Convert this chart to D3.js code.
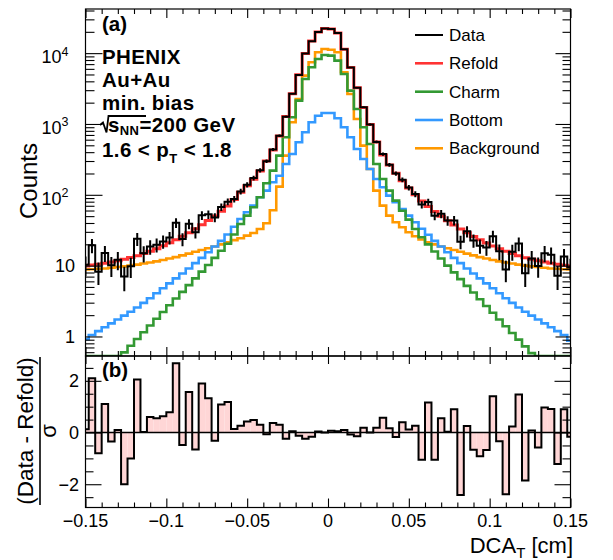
<!DOCTYPE html>
<html><head><meta charset="utf-8">
<script src="https://cdn.jsdelivr.net/npm/d3@7"></script>
<style>
body{margin:0;background:#fff;}
svg text{font-family:"Liberation Sans",Arial,Helvetica,sans-serif;fill:#000;}
</style></head><body>
<svg id="chart" width="613" height="560"></svg>
<script>
// ---------------- data ----------------
const binCenters = [-0.150,-0.146,-0.142,-0.138,-0.134,-0.130,-0.126,-0.122,-0.118,-0.114,
  -0.110,-0.106,-0.102,-0.098,-0.094,-0.090,-0.086,-0.082,-0.078,-0.074,
  -0.070,-0.066,-0.062,-0.058,-0.054,-0.050,-0.046,-0.042,-0.038,-0.034,
  -0.030,-0.026,-0.022,-0.018,-0.014,-0.010,-0.006,-0.002,0.002,0.006,
  0.010,0.014,0.018,0.022,0.026,0.030,0.034,0.038,0.042,0.046,
  0.050,0.054,0.058,0.062,0.066,0.070,0.074,0.078,0.082,0.086,
  0.090,0.094,0.098,0.102,0.106,0.110,0.114,0.118,0.122,0.126,
  0.130,0.134,0.138,0.142,0.146,0.150];
const binWidth = 0.004;

const dataCounts = [10.3,19.4,8.2,15.1,10.1,12.1,7.0,9.8,23.9,14.9,
  18.6,19.8,22.0,24.9,40.2,23.7,39.0,29.5,51.3,53.0,
  47.9,67.4,79.9,87.2,111.5,139.0,172.2,222.0,298.6,437.7,
  681.6,1269,2680,4930,9863,14780,19876,22310,21860,19327,
  11361,6256,3243,1720,986,558.6,376.5,265.5,199.7,162.7,
  126.4,102.4,72.7,78.9,50.7,53.9,43.3,43.5,21.7,30.5,
  22.7,19.1,18.0,26.1,15.9,8.8,15.7,20.5,7.8,12.6,
  9.9,15.0,14.2,7.2,13.5,9.4];

const refold = [9.89,10.17,10.47,10.79,11.25,11.77,12.34,12.98,13.84,14.85,
  15.99,17.33,19.02,20.97,23.22,25.99,29.22,33.12,37.70,43.30,
  50.12,58.56,69.34,85.93,108.7,133.9,165.9,217.5,299.8,430.0,
  673.8,1278,2677,4938,9887,14800,19870,22310,21850,19320,
  11350,6262,3251,1712,985.8,554.4,365.4,262.7,202.1,157.6,
  125.1,99.83,81.67,68.56,58.19,49.83,43.07,37.52,32.97,29.10,
  25.89,23.14,20.91,18.97,17.29,15.95,14.83,13.82,12.96,12.32,
  11.76,11.24,10.78,10.46,10.16,9.85];

const charm = [0.170,0.209,0.257,0.316,0.389,0.479,0.596,0.741,0.923,1.148,
  1.429,1.778,2.213,2.754,3.428,4.266,5.309,6.607,8.222,10.23,
  12.88,16.22,20.42,27.54,38.73,50.82,66.68,92.26,145.6,219.3,
  357.3,648.6,1242,2133,4315,6310,8279,9419,9226,7834,
  5082,2958,1629,897.4,522.4,272.3,167.5,114.6,82.79,59.70,
  44.67,32.96,25.12,19.95,15.85,12.59,10.0,8.035,6.457,5.188,
  4.169,3.350,2.692,2.163,1.738,1.396,1.122,0.902,0.724,0.582,
  0.468,0.380,0.309,0.251,0.204,0.166];

const bottom = [0.912,1.047,1.189,1.349,1.531,1.738,1.972,2.239,2.570,2.985,
  3.467,4.074,4.786,5.623,6.607,7.762,9.120,10.84,12.88,15.49,
  18.62,22.39,27.54,35.48,45.60,56.62,70.31,92.26,114.6,150.3,
  186.2,272.3,377.6,550.8,763.8,1057,1309,1429,1429,1202,
  897.4,648.6,443.6,320.6,231.7,167.5,127.6,97.27,78.34,63.10,
  50.82,40.93,33.11,27.23,22.39,18.62,15.49,12.88,10.84,9.120,
  7.762,6.607,5.623,4.786,4.074,3.467,2.985,2.570,2.239,1.972,
  1.738,1.531,1.349,1.189,1.047,0.871];

const background = [8.81,8.91,9.02,9.12,9.33,9.55,9.77,10.0,10.35,10.72,
  11.09,11.48,12.02,12.59,13.18,13.96,14.79,15.67,16.60,17.58,
  18.62,19.95,21.38,22.91,24.32,26.49,28.91,32.96,39.63,60.39,
  130.3,357.3,1057,2254,4808,7430,10280,11460,11190,10280,
  5370,2655,1178,494.3,231.7,114.6,70.31,50.82,40.93,34.75,
  29.58,25.94,23.44,21.38,19.95,18.62,17.58,16.60,15.67,14.79,
  13.96,13.18,12.59,12.02,11.48,11.09,10.72,10.35,10.0,9.77,
  9.55,9.33,9.12,9.02,8.91,8.81];

const residual = [0.13,2.1,-0.8,1.1,-0.35,0.1,-2.0,-1.0,2.05,0.02,
  0.6,0.55,0.63,0.78,2.68,-0.48,1.57,-0.66,1.9,1.33,
  -0.32,1.08,1.18,0.14,0.26,0.43,0.48,0.3,-0.07,0.37,
  0.3,-0.24,0.05,-0.12,-0.24,-0.16,0.04,0.0,0.07,0.05,
  0.1,-0.08,-0.14,0.18,0.0,0.18,0.57,0.17,-0.17,0.4,
  0.12,0.26,-1.05,1.16,-1.05,0.55,0.03,0.9,-2.42,0.25,
  -0.67,-0.92,-0.68,1.4,-0.34,-2.39,0.23,1.47,-1.86,0.08,
  -0.58,0.97,0.91,-1.22,0.9,-0.16];

const xMajorTicks = [-0.15,-0.1,-0.05,0,0.05,0.1,0.15];
const xTickLabels = ["\u22120.15","\u22120.1","\u22120.05","0","0.05","0.1","0.15"];
const xMinorTicks = [-0.14,-0.13,-0.12,-0.11,-0.09,-0.08,-0.07,-0.06,-0.04,-0.03,-0.02,-0.01,
  0.01,0.02,0.03,0.04,0.06,0.07,0.08,0.09,0.11,0.12,0.13,0.14];
const yTopMajor = [1,10,100,1000,10000];
const yTopLabels = [{base:"1",exp:""},{base:"10",exp:""},{base:"10",exp:"2"},{base:"10",exp:"3"},{base:"10",exp:"4"}];
const yTopMinor = [0.6,0.7,0.8,0.9,2,3,4,5,6,7,8,9,20,30,40,50,60,70,80,90,
  200,300,400,500,600,700,800,900,2000,3000,4000,5000,6000,7000,8000,9000,20000,30000,40000];
const yBotMajor = [-2,0,2];
const yBotLabels = ["\u22122","0","2"];
const yBotMinor = [-2.5,-1.5,-1,-0.5,0.5,1,1.5,2.5];

const legendLabels = ["Data","Refold","Charm","Bottom","Background"];
const seriesColors = {Data:"#000000",Refold:"#ff3333",Charm:"#339933",Bottom:"#3399ff",Background:"#ff9900"};

const infoLines = ["PHENIX","Au+Au","min. bias"];

// ---------------- layout ----------------
const xL = 85.5, xR = 570.5, yT = 9, yM = 356, yB = 507.5;
const svg = d3.select("#chart");
const x = d3.scaleLinear().domain([-0.15,0.15]).range([xL,xR]);
const yTop = d3.scaleLog().domain([0.53,42000]).range([yM,yT]);
const yBot = d3.scaleLinear().domain([-2.9,2.96]).range([yB,yM]);

const defs = svg.append("defs");
defs.append("clipPath").attr("id","clipTop").append("rect")
  .attr("x",xL).attr("y",yT).attr("width",xR-xL).attr("height",yM-yT);
defs.append("clipPath").attr("id","clipBot").append("rect")
  .attr("x",xL).attr("y",yM).attr("width",xR-xL).attr("height",yB-yM);

function stepPath(vals, ys, minV){
  let p = "";
  vals.forEach((v,i)=>{
    const c = binCenters[i];
    const x0 = x(c-binWidth/2), x1 = x(c+binWidth/2);
    const yy = ys(Math.max(v,minV));
    p += (i===0 ? `M${x0},${yy}` : `V${yy}`) + `H${x1}`;
  });
  return p;
}

// ---------------- top panel ----------------
const gTop = svg.append("g").attr("clip-path","url(#clipTop)");
const minTop = yTop.domain()[0];
[["Background",background],["Bottom",bottom],["Charm",charm]].forEach(([n,arr])=>{
  gTop.append("path").attr("d",stepPath(arr,yTop,minTop))
    .attr("fill","none").attr("stroke",seriesColors[n]).attr("stroke-width",2.6);
});
gTop.append("path").attr("d",stepPath(refold,yTop,minTop))
  .attr("fill","none").attr("stroke",seriesColors.Refold).attr("stroke-width",3);
gTop.append("path").attr("d",stepPath(dataCounts,yTop,minTop))
  .attr("fill","none").attr("stroke","#000").attr("stroke-width",2);
gTop.selectAll("line.err").data(dataCounts).enter().append("line")
  .attr("x1",(d,i)=>x(binCenters[i])).attr("x2",(d,i)=>x(binCenters[i]))
  .attr("y1",d=>yTop(Math.max(d-Math.sqrt(d),minTop))).attr("y2",d=>yTop(d+Math.sqrt(d)))
  .attr("stroke","#000").attr("stroke-width",2);

// ---------------- bottom panel ----------------
const gBot = svg.append("g").attr("clip-path","url(#clipBot)");
gBot.selectAll("rect.res").data(residual).enter().append("rect")
  .attr("x",(d,i)=>x(binCenters[i]-binWidth/2))
  .attr("width",(d,i)=>x(binCenters[i]+binWidth/2)-x(binCenters[i]-binWidth/2))
  .attr("y",d=>Math.min(yBot(d),yBot(0)))
  .attr("height",d=>Math.abs(yBot(d)-yBot(0)))
  .attr("fill","#ffd6d6");
gBot.append("path").attr("d",stepPath(residual,yBot,-100))
  .attr("fill","none").attr("stroke","#000").attr("stroke-width",2);
svg.append("line").attr("x1",xL).attr("x2",xR).attr("y1",yBot(0)).attr("y2",yBot(0))
  .attr("stroke","#000").attr("stroke-width",1.6);

// ---------------- axes / ticks ----------------
function ax(fn, tr){
  const g = svg.append("g").attr("transform",tr).call(fn);
  g.select(".domain").remove();
  g.selectAll("line").attr("stroke","#000").attr("stroke-width",1.1);
  g.selectAll("text").remove();
  return g;
}
// top panel
ax(d3.axisTop(x).tickValues(xMajorTicks).tickSize(-9), `translate(0,${yT})`);
ax(d3.axisTop(x).tickValues(xMinorTicks).tickSize(-5), `translate(0,${yT})`);
ax(d3.axisBottom(x).tickValues(xMajorTicks).tickSize(-9), `translate(0,${yM})`);
ax(d3.axisBottom(x).tickValues(xMinorTicks).tickSize(-5), `translate(0,${yM})`);
ax(d3.axisLeft(yTop).tickValues(yTopMajor).tickSize(-17), `translate(${xL},0)`);
ax(d3.axisLeft(yTop).tickValues(yTopMinor).tickSize(-9), `translate(${xL},0)`);
ax(d3.axisRight(yTop).tickValues(yTopMajor).tickSize(-15), `translate(${xR},0)`);
ax(d3.axisRight(yTop).tickValues(yTopMinor).tickSize(-8), `translate(${xR},0)`);
// bottom panel
ax(d3.axisTop(x).tickValues(xMajorTicks).tickSize(-8), `translate(0,${yM})`);
ax(d3.axisTop(x).tickValues(xMinorTicks).tickSize(-4), `translate(0,${yM})`);
ax(d3.axisBottom(x).tickValues(xMajorTicks).tickSize(-9), `translate(0,${yB})`);
ax(d3.axisBottom(x).tickValues(xMinorTicks).tickSize(-5), `translate(0,${yB})`);
ax(d3.axisLeft(yBot).tickValues(yBotMajor).tickSize(-16), `translate(${xL},0)`);
ax(d3.axisLeft(yBot).tickValues(yBotMinor).tickSize(-8), `translate(${xL},0)`);
ax(d3.axisRight(yBot).tickValues(yBotMajor).tickSize(-16), `translate(${xR},0)`);
ax(d3.axisRight(yBot).tickValues(yBotMinor).tickSize(-8), `translate(${xR},0)`);

// frames
svg.append("rect").attr("x",xL).attr("y",yT).attr("width",xR-xL).attr("height",yM-yT)
  .attr("fill","none").attr("stroke","#000").attr("stroke-width",1.2);
svg.append("rect").attr("x",xL).attr("y",yM).attr("width",xR-xL).attr("height",yB-yM)
  .attr("fill","none").attr("stroke","#000").attr("stroke-width",1.2);

// tick labels
yTopMajor.forEach((v,i)=>{
  const lab = yTopLabels[i];
  if(lab.exp){
    const t = svg.append("text").attr("x",68.5).attr("y",yTop(v)+10)
      .attr("text-anchor","end").attr("font-size",18);
    t.append("tspan").text(lab.base);
    t.append("tspan").attr("dy",-7.5).attr("font-size",12.5).text(lab.exp);
  } else {
    svg.append("text").attr("x",75).attr("y",yTop(v)+6.5)
      .attr("text-anchor","end").attr("font-size",18).text(lab.base);
  }
});
yBotMajor.forEach((v,i)=>{
  svg.append("text").attr("x",79).attr("y",yBot(v)+6.5)
    .attr("text-anchor","end").attr("font-size",18).text(yBotLabels[i]);
});
xMajorTicks.forEach((v,i)=>{
  svg.append("text").attr("x",x(v)).attr("y",527)
    .attr("text-anchor","middle").attr("font-size",18).text(xTickLabels[i]);
});

// axis titles
svg.append("text").attr("transform","translate(37,181) rotate(-90)")
  .attr("text-anchor","middle").attr("font-size",24).text("Counts");
svg.append("text").attr("transform","translate(33,431) rotate(-90)")
  .attr("text-anchor","middle").attr("font-size",22.5).text("(Data - Refold)");
svg.append("line").attr("x1",40).attr("x2",40).attr("y1",357).attr("y2",505)
  .attr("stroke","#000").attr("stroke-width",1.6);
svg.append("text").attr("transform","translate(55.5,431) rotate(-90)")
  .attr("text-anchor","middle").attr("font-size",22).text("\u03c3");
const xt = svg.append("text").attr("x",573).attr("y",553).attr("text-anchor","end").attr("font-size",22);
xt.append("tspan").text("DCA");
xt.append("tspan").attr("dy",5).attr("font-size",15).text("T");
xt.append("tspan").attr("dy",-5).text(" [cm]");

// panel labels and info text
const infoSize = 20.5;
svg.append("text").attr("x",102).attr("y",31).attr("font-size",infoSize).attr("font-weight","bold").text("(a)");
svg.append("text").attr("x",102).attr("y",377).attr("font-size",infoSize).attr("font-weight","bold").text("(b)");
const infoY = [64,87,110];
infoLines.forEach((s,i)=>{
  svg.append("text").attr("x",102).attr("y",infoY[i]).attr("font-size",infoSize)
    .attr("font-weight","bold").attr("letter-spacing",0.4).text(s);
});
svg.append("path").attr("d","M100,125 L103,122.5 L106.5,132.5 L108.5,116 H146")
  .attr("fill","none").attr("stroke","#000").attr("stroke-width",1.8);
const sq = svg.append("text").attr("x",108).attr("y",132).attr("font-size",infoSize)
  .attr("font-weight","bold").attr("letter-spacing",0.4);
sq.append("tspan").text("s");
sq.append("tspan").attr("dy",3).attr("font-size",13).text("NN");
sq.append("tspan").attr("dy",-3).text("=200 GeV");
const pt = svg.append("text").attr("x",102).attr("y",156.5).attr("font-size",infoSize)
  .attr("font-weight","bold").attr("letter-spacing",0.4);
pt.append("tspan").text("1.6 < p");
pt.append("tspan").attr("dy",6).attr("font-size",13).text("T");
pt.append("tspan").attr("dy",-6).text(" < 1.8");

// legend
const legY = [35,63.3,91.7,120,148.3];
legendLabels.forEach((n,i)=>{
  svg.append("line").attr("x1",415).attr("x2",443).attr("y1",legY[i]).attr("y2",legY[i])
    .attr("stroke",seriesColors[n]).attr("stroke-width",n==="Data"?2:2.6);
  svg.append("text").attr("x",449).attr("y",legY[i]+6).attr("font-size",17).text(n);
});
</script>
</body></html>
